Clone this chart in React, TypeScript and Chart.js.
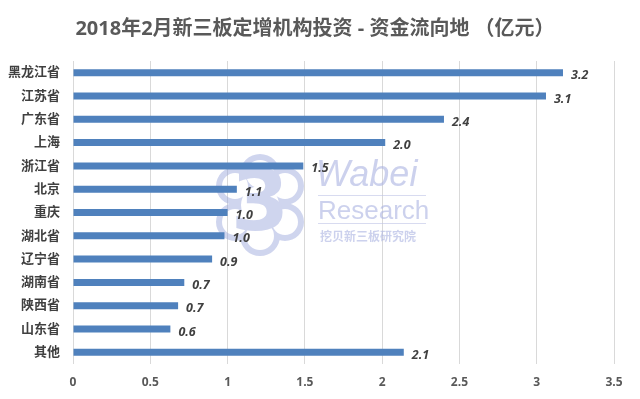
import React, { useEffect, useRef } from "react";
import { Chart, registerables } from "chart.js";

Chart.register(...registerables);

const categories = ["黑龙江省", "江苏省", "广东省", "上海", "浙江省", "北京", "重庆", "湖北省", "辽宁省", "湖南省", "陕西省", "山东省", "其他"];
const values = [3.17, 3.06, 2.4, 2.02, 1.49, 1.06, 1.0, 0.98, 0.9, 0.72, 0.68, 0.63, 2.14];
const xTicks = [0, 0.5, 1, 1.5, 2, 2.5, 3, 3.5];
const titleText = "2018年2月新三板定增机构投资 - 资金流向地 （亿元）";

const FONT = "'Open Sans', 'Noto Sans CJK SC', sans-serif";

const titlePlugin = {
  id: "customTitle",
  afterDraw(chart: any) {
    const ctx = chart.ctx;
    ctx.save();
    ctx.font = `bold 20px ${FONT}`;
    ctx.fillStyle = "#595959";
    ctx.textAlign = "center";
    ctx.textBaseline = "middle";
    ctx.fillText(titleText, 315, 29);
    ctx.restore();
  },
};

const watermarkPlugin = {
  id: "watermark",
  beforeDatasetsDraw(chart: any) {
    const ctx = chart.ctx;
    ctx.save();
    // cloud logo via offscreen canvas
    const off = document.createElement("canvas");
    off.width = 640;
    off.height = 399;
    const o = off.getContext("2d")!;
    const lobes = [
      [260, 174, 17],
      [235, 186, 16],
      [235, 222, 16],
      [285, 186, 16],
      [285, 222, 16],
      [260, 236, 17],
      [260, 205, 22],
    ];
    o.fillStyle = "rgba(150,162,218,1)";
    o.beginPath();
    for (const [x, y, r] of lobes) {
      o.moveTo(x + r + 3, y);
      o.arc(x, y, r + 3, 0, Math.PI * 2);
    }
    o.fill();
    o.globalCompositeOperation = "destination-out";
    o.beginPath();
    for (const [x, y, r] of lobes) {
      o.moveTo(x + r - 3, y);
      o.arc(x, y, r - 3, 0, Math.PI * 2);
    }
    o.fill();
    o.globalCompositeOperation = "source-over";
    o.fillStyle = "rgba(150,162,218,1)";
    o.font = `bold 84px 'DejaVu Sans', sans-serif`;
    o.textAlign = "center";
    o.textBaseline = "middle";
    o.fillText("3", 260, 208);
    ctx.globalAlpha = 0.45;
    ctx.drawImage(off, 0, 0);
    ctx.globalAlpha = 1;
    // text
    ctx.fillStyle = "rgba(170,178,225,0.6)";
    ctx.textAlign = "left";
    ctx.textBaseline = "alphabetic";
    ctx.font = `italic 36px 'Liberation Sans', sans-serif`;
    ctx.fillText("Wabei", 316, 186);
    ctx.font = `26px 'Liberation Sans', sans-serif`;
    ctx.fillText("Research", 318, 219);
    ctx.font = `bold 12px 'Noto Sans CJK SC', sans-serif`;
    ctx.textBaseline = "middle";
    ctx.fillText("挖贝新三板研究院", 320, 236);
    ctx.strokeStyle = "rgba(190,195,230,0.6)";
    ctx.lineWidth = 1;
    ctx.beginPath();
    ctx.moveTo(318, 195.5);
    ctx.lineTo(426, 195.5);
    ctx.moveTo(318, 223.5);
    ctx.lineTo(426, 223.5);
    ctx.stroke();
    ctx.restore();
  },
};

const labelPlugin = {
  id: "barLabels",
  afterDatasetsDraw(chart: any) {
    const ctx = chart.ctx;
    const meta = chart.getDatasetMeta(0);
    ctx.save();
    ctx.font = `italic bold 12.5px ${FONT}`;
    ctx.fillStyle = "#404040";
    ctx.textAlign = "left";
    ctx.textBaseline = "middle";
    meta.data.forEach((bar: any, i: number) => {
      ctx.fillText(values[i].toFixed(1), bar.x + 8, bar.y + 3);
    });
    ctx.restore();
  },
};

export default function App() {
  const ref = useRef<HTMLCanvasElement>(null);
  useEffect(() => {
    document.body.style.margin = "0";
    const chart = new Chart(ref.current!, {
      type: "bar",
      data: {
        labels: categories,
        datasets: [
          {
            data: values,
            backgroundColor: "#4f81bd",
            barPercentage: 0.6,
            categoryPercentage: 0.5,
          },
        ],
      },
      options: {
        indexAxis: "y",
        animation: false,
        responsive: false,
        layout: { padding: { top: 61, right: 26, bottom: 0, left: 0 } },
        plugins: {
          legend: { display: false },
          title: { display: false },
          tooltip: { enabled: false },
        },
        scales: {
          x: {
            min: 0,
            max: 3.5,
            afterBuildTicks: (scale: any) => {
              scale.ticks = xTicks.map((v) => ({ value: v }));
            },
            afterFit: (scale: any) => {
              scale.height = 35;
            },
            grid: { color: "#d9d9d9", drawTicks: false },
            border: { display: false },
            ticks: {
              padding: 11,
              color: "#595959",
              font: { family: FONT, size: 12, weight: "bold" },
              callback: (v: any) => String(v),
            },
          },
          y: {
            afterFit: (scale: any) => {
              scale.width = 73;
            },
            grid: { display: false, drawTicks: false },
            border: { display: false },
            ticks: {
              padding: 13,
              color: "#404040",
              font: { family: FONT, size: 13, weight: "bold" },
            },
          },
        },
      },
      plugins: [watermarkPlugin, labelPlugin, titlePlugin],
    });
    return () => chart.destroy();
  }, []);
  return (
    <div style={{ position: "absolute", left: 0, top: 0, width: 640, height: 399, background: "#fff" }}>
      <canvas ref={ref} width={640} height={399} />
    </div>
  );
}
